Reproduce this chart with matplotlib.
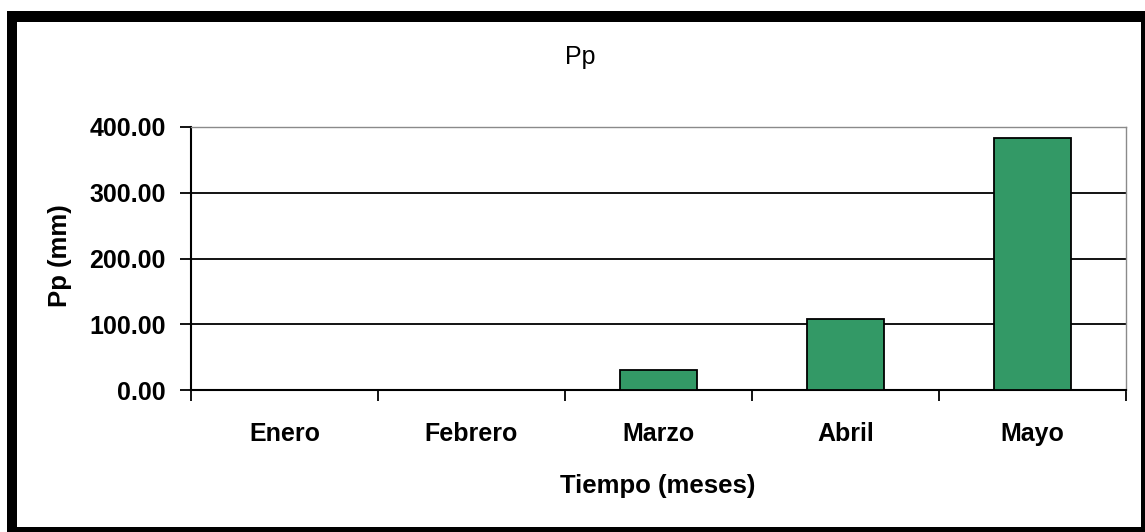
import matplotlib
matplotlib.use("Agg")
import matplotlib.pyplot as plt
from matplotlib.patches import Rectangle
import numpy as np

months = ["Enero", "Febrero", "Marzo", "Abril", "Mayo"]
pp_mm = [0.0, 0.0, 30.4, 107.5, 382.8]
yticks = [0, 100, 200, 300, 400]
title = "Pp"
xlabel = "Tiempo (meses)"
ylabel = "Pp (mm)"

W, H = 1145, 532
fig = plt.figure(figsize=(W / 100, H / 100), dpi=100)
fig.patch.set_facecolor("white")

# outer black frame
fig.patches.append(Rectangle((7 / W, 0), 1 - 7 / W, 1 - 11 / H, transform=fig.transFigure,
                             facecolor="black", edgecolor="none", zorder=-20))
fig.patches.append(Rectangle((17 / W, 5 / H), (1141 - 17) / W, (527 - 22) / H,
                             transform=fig.transFigure, facecolor="white", edgecolor="none", zorder=-10))

ax = fig.add_axes([191 / W, (H - 390) / H, (1126 - 191) / W, (390 - 127) / H])
ax.set_facecolor("none")
ax.set_zorder(5)

x = np.arange(len(months))
ax.bar(x, pp_mm, width=0.41, color="#339966", edgecolor="black", linewidth=1.3, zorder=3)

ax.set_xlim(-0.5, len(months) - 0.5)
ax.set_ylim(0, 400)
ax.set_yticks(yticks)
ax.set_yticklabels([f"{v:.2f}" for v in yticks])
ax.set_xticks(x)
ax.set_xticklabels(months)
ax.set_xticks(np.arange(-0.5, len(months), 1.0), minor=True)

font = "Liberation Sans"
for lab in ax.get_yticklabels() + ax.get_xticklabels():
    lab.set_fontfamily(font)
    lab.set_fontweight("bold")
    lab.set_fontsize(18)

ax.tick_params(axis="x", which="major", length=0, pad=23)
ax.tick_params(axis="x", which="minor", length=8, width=1.3, direction="out", color="black")
ax.tick_params(axis="y", which="major", length=8, width=1.3, direction="out", pad=10, color="black")

for v in yticks[1:-1]:
    ax.axhline(v, color="black", linewidth=1.3, zorder=1)

ax.spines["left"].set_color("black")
ax.spines["left"].set_linewidth(1.5)
ax.spines["bottom"].set_color("black")
ax.spines["bottom"].set_linewidth(1.5)
ax.spines["top"].set_color("#8a8a8a")
ax.spines["top"].set_linewidth(1.0)
ax.spines["right"].set_color("#8a8a8a")
ax.spines["right"].set_linewidth(1.0)

fig.text(580 / W, 1 - 57 / H, title, ha="center", va="center", fontsize=18, fontfamily=font)
fig.text(658 / W, 1 - 486 / H, xlabel, ha="center", va="center", fontsize=18.5,
         fontfamily=font, fontweight="bold")
fig.text(60 / W, 1 - 256 / H, ylabel, ha="center", va="center", fontsize=18.5,
         fontfamily=font, fontweight="bold", rotation=90)

fig.savefig("out.png", dpi=100, facecolor="white")
